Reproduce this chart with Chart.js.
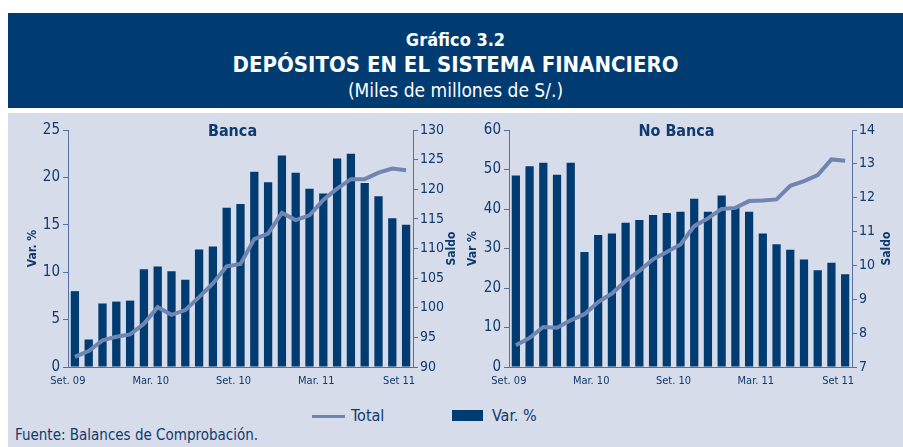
<!DOCTYPE html>
<html>
<head>
<meta charset="utf-8">
<script src="https://cdn.jsdelivr.net/npm/chart.js@4.4.1/dist/chart.umd.min.js"></script>
<style>
  body { margin: 0; width: 903px; height: 447px; position: relative; background: #fff; overflow: hidden;
         font-family: "Liberation Sans Narrow", "DejaVu Sans Condensed", sans-serif; color: #0f3a6e; }
  #head { position: absolute; left: 8px; top: 13px; width: 895px; height: 95px; background: #003b71; color: #fff; text-align: center; }
  #head .t1 { position: absolute; left: 0; right: 0; top: 16px; font-size: 18px; font-weight: bold; }
  #head .t2 { position: absolute; left: 0; right: 0; top: 39px; font-size: 22px; font-weight: bold; }
  #head .t3 { position: absolute; left: 0; right: 0; top: 66px; font-size: 19px; }
  #panel { position: absolute; left: 8px; top: 113px; width: 895px; height: 334px; background: #d6dce9; }
  .wrap { position: absolute; top: 113px; height: 290px; }
  #w1 { left: 0; width: 462px; }
  #w2 { left: 462px; width: 441px; }
  .legend { position: absolute; top: 406px; font-size: 16px; line-height: 20px; color: #0f3a6e; }
  .sw-line { position: absolute; width: 33px; height: 3px; background: #6f86b3; top: 9px; left: 0; }
  .sw-box { position: absolute; width: 31px; height: 11px; background: #003b71; top: 4px; left: 0; }
  #src { position: absolute; left: 15px; top: 426px; font-size: 15px; color: #0f3a6e; }
</style>
</head>
<body>
<div id="head">
  <div class="t1">Gráfico 3.2</div>
  <div class="t2">DEPÓSITOS EN EL SISTEMA FINANCIERO</div>
  <div class="t3">(Miles de millones de S/.)</div>
</div>
<div id="panel"></div>
<div class="wrap" id="w1"><canvas id="c1" width="462" height="290"></canvas></div>
<div class="wrap" id="w2"><canvas id="c2" width="441" height="290"></canvas></div>
<div class="legend" style="left:312px;"><span class="sw-line"></span><span style="margin-left:39px">Total</span></div>
<div class="legend" style="left:452px;"><span class="sw-box"></span><span style="margin-left:40px">Var. %</span></div>
<div id="src">Fuente: Balances de Comprobación.</div>

<script>
const months = [
  "Set. 09", "Oct. 09", "Nov. 09", "Dic. 09", "Ene. 10", "Feb. 10",
  "Mar. 10", "Abr. 10", "May. 10", "Jun. 10", "Jul. 10", "Ago. 10",
  "Set. 10", "Oct. 10", "Nov. 10", "Dic. 10", "Ene. 11", "Feb. 11",
  "Mar. 11", "Abr. 11", "May. 11", "Jun. 11", "Jul. 11", "Ago. 11",
  "Set 11",
];

const bancaVar = [
  8.0, 2.9, 6.7, 6.9, 7.0, 10.3, 10.6, 10.1, 9.2, 12.4, 12.7, 16.8,
  17.2, 20.6, 19.5, 22.3, 20.5, 18.8, 18.3, 22.0, 22.5, 19.4, 18.0, 15.7, 15.0,
];
const bancaTotal = [
  91.7, 92.7, 94.5, 95.1, 95.5, 97.3, 100.1, 98.8, 99.6, 101.8, 104.1, 107.0,
  107.4, 111.6, 112.5, 116.0, 114.8, 115.6, 118.2, 120.1, 121.7, 121.7, 122.8, 123.5, 123.2,
];

const noBancaVar = [
  48.5, 50.8, 51.7, 48.7, 51.7, 29.1, 33.4, 33.8, 36.5, 37.2, 38.5, 39.0,
  39.3, 42.6, 39.3, 43.4, 40.3, 39.3, 33.8, 31.1, 29.7, 27.2, 24.5, 26.4, 23.5,
];
const noBancaTotal = [
  7.64, 7.86, 8.18, 8.16, 8.38, 8.56, 8.92, 9.17, 9.54, 9.84, 10.18, 10.40,
  10.62, 11.16, 11.39, 11.67, 11.70, 11.90, 11.92, 11.95, 12.35, 12.49, 12.67, 13.13, 13.09,
];

const NAVY = "#003b71";
const LINE = "#6f86b3";
const AXIS = "#55719e";
const TEXT = "#0f3a6e";
const FONT = '"Liberation Sans Narrow", "DejaVu Sans Condensed", sans-serif';

// panel title + rotated axis titles drawn on the canvas
const titlesPlugin = {
  id: "panelTitles",
  afterDraw(chart, args, opts) {
    const ctx = chart.ctx;
    const area = chart.chartArea;
    ctx.save();
    ctx.fillStyle = TEXT;
    ctx.textAlign = "center";
    ctx.textBaseline = "middle";
    ctx.font = "bold 16px " + FONT;
    ctx.fillText(opts.title, (area.left + area.right) / 2 + opts.titleShift, area.top + 2);

    ctx.font = "bold 12px " + FONT;
    const midY = (area.top + area.bottom) / 2;
    ctx.translate(opts.leftX, midY);
    ctx.rotate(-Math.PI / 2);
    ctx.fillText(opts.leftTitle, 0, 0);
    ctx.rotate(Math.PI / 2);
    ctx.translate(opts.rightX - opts.leftX, 0);
    ctx.rotate(-Math.PI / 2);
    ctx.fillText(opts.rightTitle, 0, 0);
    ctx.restore();
  },
};

function makeChart(id, barData, lineData, yLeft, yRight, leftW, rightW, titles) {
  return new Chart(document.getElementById(id), {
    type: "bar",
    data: {
      labels: months,
      datasets: [
        {
          type: "line",
          label: "Total",
          data: lineData,
          yAxisID: "y2",
          borderColor: LINE,
          borderWidth: 4,
          pointRadius: 0,
          tension: 0,
          order: 0,
        },
        {
          type: "bar",
          label: "Var. %",
          data: barData,
          yAxisID: "y",
          backgroundColor: NAVY,
          barPercentage: 0.6,
          categoryPercentage: 1,
          order: 1,
        },
      ],
    },
    options: {
      responsive: false,
      animation: false,
      layout: { padding: { top: 17, bottom: 0, left: 0, right: 0 } },
      plugins: {
        legend: { display: false },
        tooltip: { enabled: false },
        panelTitles: titles,
      },
      scales: {
        x: {
          grid: {
            drawOnChartArea: false,
            tickLength: 5,
            color: (c) => (c.index % 6 === 0 ? AXIS : "rgba(0,0,0,0)"),
          },
          border: { color: AXIS, width: 1 },
          ticks: {
            autoSkip: false,
            maxRotation: 0,
            labelOffset: -7,
            padding: 3,
            color: TEXT,
            font: { family: FONT, size: 11 },
            callback: (v, i) => (i % 6 === 0 ? months[i] : null),
          },
          afterFit: (s) => { s.height = 36; },
        },
        y: {
          position: "left",
          min: yLeft[0],
          max: yLeft[1],
          ticks: { stepSize: yLeft[2], color: TEXT, padding: 3, font: { family: FONT, size: 15 } },
          grid: { drawOnChartArea: false, tickLength: 5, color: AXIS },
          border: { color: AXIS, width: 1 },
          afterFit: (s) => { s.width = leftW; },
        },
        y2: {
          position: "right",
          min: yRight[0],
          max: yRight[1],
          ticks: { stepSize: yRight[2], color: TEXT, padding: 2, font: { family: FONT, size: 14 } },
          grid: { drawOnChartArea: false, tickLength: 5, color: AXIS },
          border: { color: AXIS, width: 1 },
          afterFit: (s) => { s.width = rightW; },
        },
      },
    },
    plugins: [titlesPlugin],
  });
}

makeChart("c1", bancaVar, bancaTotal, [0, 25, 5], [90, 130, 5], 68, 49,
  { title: "Banca", titleShift: -8, leftTitle: "Var. %", rightTitle: "Saldo", leftX: 33, rightX: 452 });
makeChart("c2", noBancaVar, noBancaTotal, [0, 60, 10], [7, 14, 1], 47, 51,
  { title: "No Banca", titleShift: -4, leftTitle: "Var %", rightTitle: "Saldo", leftX: 11, rightX: 425 });
</script>
</body>
</html>
